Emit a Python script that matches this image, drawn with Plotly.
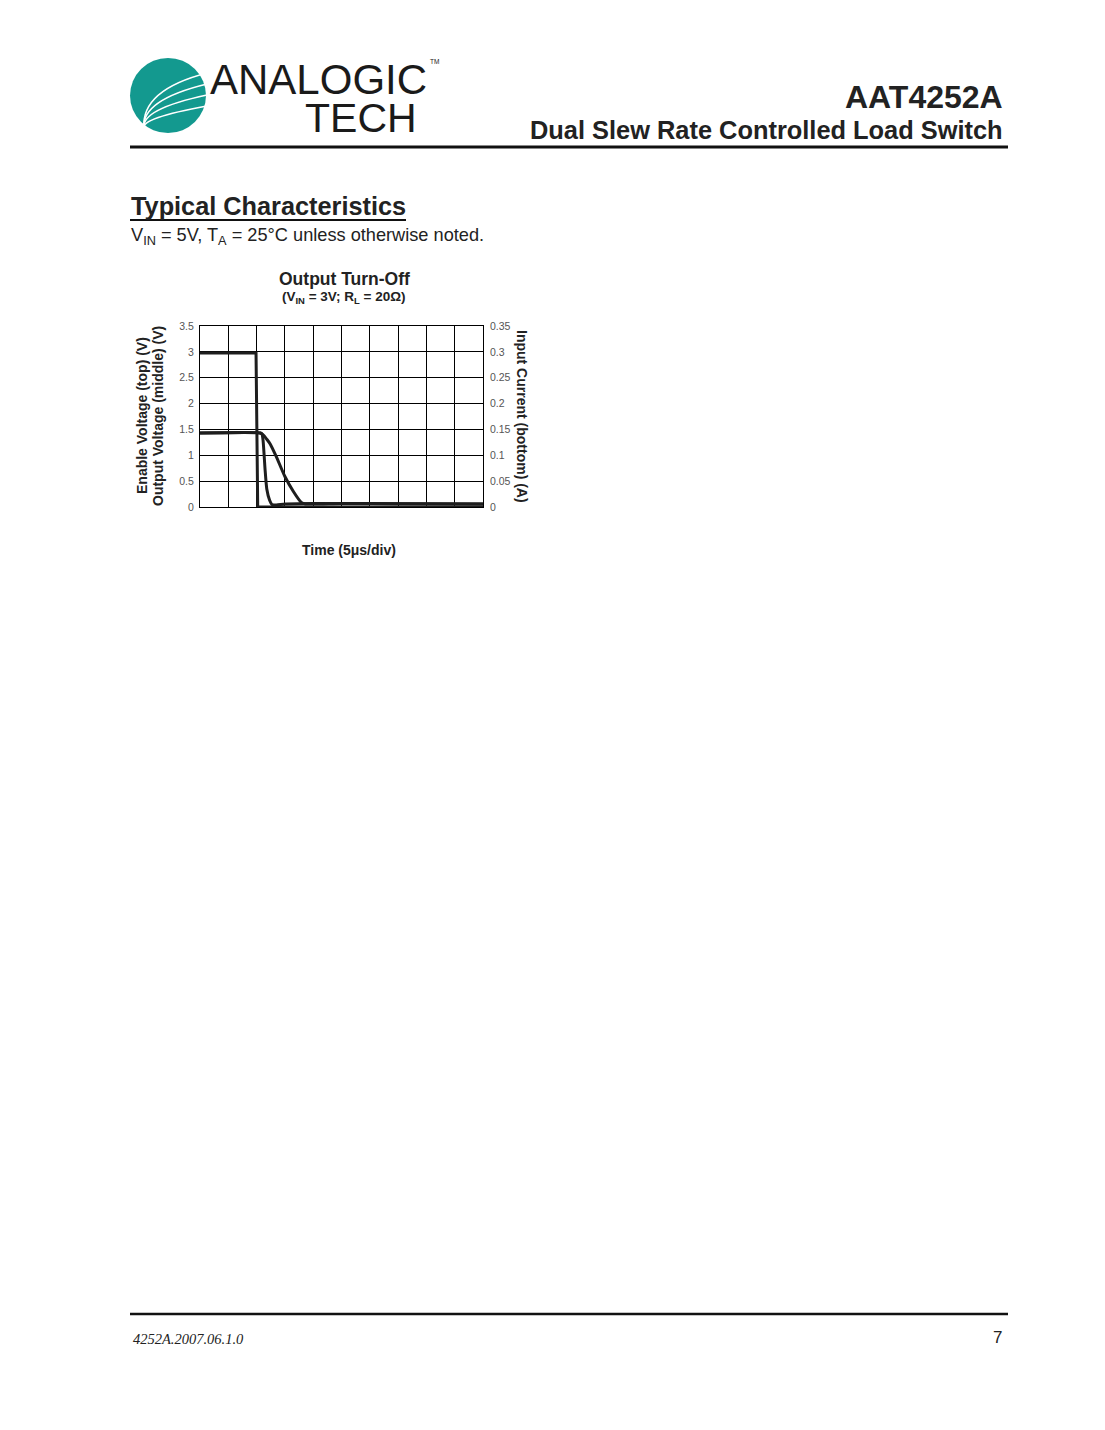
import plotly.graph_objects as go

W, H = 1105, 1430

# ---- data (time in microseconds, 5 us/div) ----
enable_t = [0, 9.9, 10.2, 50]
enable_v = [2.98, 2.98, 0.0, 0.0]

vout_t = [0, 10.6, 11.2, 11.8, 12.4, 13.5, 15.0, 16.5, 17.9, 18.6, 25, 35, 50]
vout_v = [1.43, 1.43, 1.39, 1.31, 1.22, 0.97, 0.59, 0.30, 0.09, 0.06, 0.07, 0.065, 0.06]

iin_t = [0, 10.7, 10.95, 11.15, 11.5, 11.8, 12.3, 12.7, 13.5, 15, 20, 50]
iin_a = [0.143, 0.143, 0.141, 0.128, 0.072, 0.035, 0.013, 0.005, 0.004, 0.006, 0.007, 0.006]

x_range = [0, 50]
x_dtick = 5
yl_range = [0, 3.5]
yl_dtick = 0.5
yr_range = [0, 0.35]
yr_dtick = 0.05


def px(x):
    return x / W


def py(y):
    return 1 - y / H


FONT = "Liberation Sans"
LINE = "#1e1e1e"
TEAL = "#13998f"

fig = go.Figure()
fig.add_trace(go.Scatter(x=enable_t, y=enable_v, mode="lines",
                         line=dict(color=LINE, width=3), yaxis="y", showlegend=False))
fig.add_trace(go.Scatter(x=vout_t, y=vout_v, mode="lines",
                         line=dict(color=LINE, width=3, shape="spline", smoothing=0.6),
                         yaxis="y", showlegend=False))
fig.add_trace(go.Scatter(x=iin_t, y=iin_a, mode="lines",
                         line=dict(color=LINE, width=3, shape="spline", smoothing=0.6),
                         yaxis="y2", showlegend=False))

x0, x1 = 200, 483
y0, y1 = 326, 507

fig.update_layout(
    width=W, height=H, margin=dict(l=0, r=0, t=0, b=0, pad=0, autoexpand=False),
    paper_bgcolor="white", plot_bgcolor="white",
    font=dict(family=FONT, color="#222"),
    xaxis=dict(domain=[px(x0), px(x1)], range=x_range, dtick=x_dtick, tick0=0,
               showticklabels=False, showgrid=True, gridcolor="black", gridwidth=1,
               showline=True, linecolor="black", linewidth=1, mirror=True, zeroline=False,
               ticks="", automargin=False),
    yaxis=dict(domain=[py(y1), py(y0)], range=yl_range, dtick=yl_dtick, tick0=0,
               showgrid=True, gridcolor="black", gridwidth=1,
               showline=True, linecolor="black", linewidth=1, mirror=True, zeroline=False,
               ticks="", ticklabelstandoff=3, automargin=False,
               tickfont=dict(family=FONT, size=10.5, color="#555")),
    yaxis2=dict(overlaying="y", side="right", range=yr_range, dtick=yr_dtick, tick0=0,
                showgrid=False, zeroline=False, showline=False, ticks="",
                ticklabelstandoff=6, automargin=False,
                tickfont=dict(family=FONT, size=10.5, color="#555")),
)

ann = []


def text(x, y, s, size, bold=False, anchor="left", yanchor="middle", color="#222",
         family=FONT, angle=0, italic=False):
    if bold:
        s = "<b>" + s + "</b>"
    if italic:
        s = "<i>" + s + "</i>"
    ann.append(dict(x=px(x), y=py(y), xref="paper", yref="paper", text=s,
                    showarrow=False, xanchor=anchor, yanchor=yanchor, textangle=angle,
                    font=dict(family=family, size=size, color=color)))


# header
text(1005, 97, "AAT4252A", 32, bold=True, anchor="right")
text(1005, 130, "Dual Slew Rate Controlled Load Switch", 25.4, bold=True, anchor="right")
text(208, 79, "ANALOGIC", 42, anchor="left", color="#1a1a1a")
text(419, 118, "TECH", 41, anchor="right", color="#1a1a1a")
text(428, 61, "TM", 6.5, anchor="left", color="#1a1a1a")

# section
text(129, 206, "Typical Characteristics", 25.3, bold=True, anchor="left")
text(129, 236, "V<sub>IN</sub> = 5V, T<sub>A</sub> = 25°C unless otherwise noted.", 18.2, anchor="left")

# chart titles
text(344, 279, "Output Turn-Off", 17.5, bold=True, anchor="center")
text(344, 297, "(V<sub>IN</sub> = 3V; R<sub>L</sub> = 20Ω)", 13.5, bold=True, anchor="center")
text(142, 416, "Enable Voltage (top) (V)", 14, bold=True, anchor="center", angle=-90)
text(158, 416, "Output Voltage (middle) (V)", 14, bold=True, anchor="center", angle=-90)
text(522, 416, "Input Current (bottom) (A)", 14, bold=True, anchor="center", angle=90)
text(349, 550, "Time (5μs/div)", 14, bold=True, anchor="center")

# footer
text(131, 1339, "4252A.2007.06.1.0", 14.5, italic=True, anchor="left", family="Liberation Serif")
text(1004, 1337, "7", 17, anchor="right")

fig.update_layout(annotations=ann)

shapes = []
# rules
shapes.append(dict(type="line", xref="paper", yref="paper", x0=px(130), x1=px(1008),
                   y0=py(147), y1=py(147), line=dict(color="#111", width=3)))
shapes.append(dict(type="line", xref="paper", yref="paper", x0=px(130), x1=px(406),
                   y0=py(220), y1=py(220), line=dict(color="#111", width=2)))
shapes.append(dict(type="line", xref="paper", yref="paper", x0=px(130), x1=px(1008),
                   y0=py(1314), y1=py(1314), line=dict(color="#111", width=2.5)))
# logo circle
shapes.append(dict(type="circle", xref="paper", yref="paper", x0=px(130), x1=px(206),
                   y0=py(133), y1=py(58), fillcolor=TEAL, line=dict(width=0)))


def pth(pts):
    (ax, ay), (cx, cy), (bx, by) = pts
    return "M {} {} Q {} {} {} {}".format(px(ax), py(ay), px(cx), py(cy), px(bx), py(by))


for ly, ry in [(90, 73), (100, 84), (109, 95), (118, 106)]:
    shapes.append(dict(type="path", xref="paper", yref="paper",
                       path=pth([(144, 128), (141, ly), (207, ry)]),
                       line=dict(color="white", width=1.6)))

fig.update_layout(shapes=shapes)

fig.write_html("out.html", config={"displayModeBar": False},
               post_script="document.body.style.margin='0';")
